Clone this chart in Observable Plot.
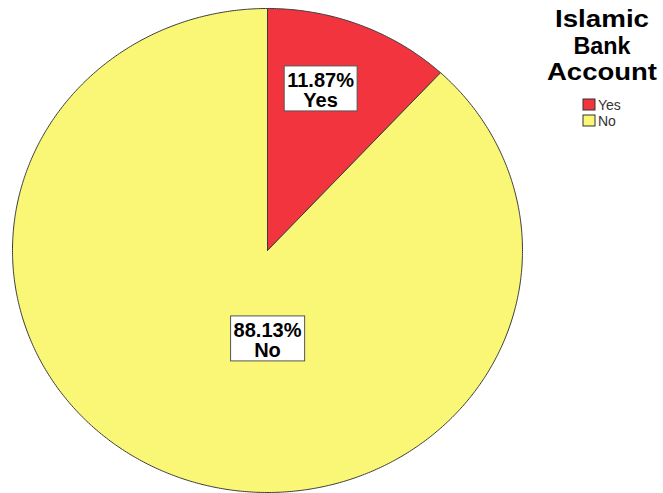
<!DOCTYPE html>
<html><head><meta charset="utf-8">
<script src="https://cdn.jsdelivr.net/npm/d3@7"></script>
<script src="https://cdn.jsdelivr.net/npm/@observablehq/plot@0.6"></script>
<style>
body{margin:0;background:#fff;}
#chart{position:relative;width:663px;height:493px;}
</style>
</head><body><div id="chart"></div>
<script>
// ---- data ----
const categories = ["Yes", "No"];
const percents = [11.87, 88.13];
const colors = ["#f2343f", "#faf776"];
const legendTitle = ["Islamic", "Bank", "Account"];

// ---- layout (not data) ----
const labelAt = [[0.208, 0.659], [0, -0.374]];
const titleWidths = [94, 57, 110];

const pie = d3.pie().sort(null).value(d => d.value)(
  categories.map((c, i) => ({category: c, value: percents[i]}))
);
const outline = [];
pie.forEach(a => {
  const n = Math.max(2, Math.ceil((a.endAngle - a.startAngle) / (Math.PI / 360)));
  outline.push({category: a.data.category, x: 0, y: 0});
  for (let k = 0; k <= n; k++) {
    const t = a.startAngle + (a.endAngle - a.startAngle) * k / n;
    outline.push({category: a.data.category, x: Math.sin(t), y: Math.cos(t)});
  }
  outline.push({category: a.data.category, x: 0, y: 0});
});

const labels = categories.map((c, i) => ({
  text: `${percents[i].toFixed(2)}%\n${c}`, x: labelAt[i][0], y: labelAt[i][1]
}));

const plot = Plot.plot({
  width: 663,
  height: 493,
  margin: 0,
  style: {fontFamily: "'Liberation Sans', Arial, sans-serif", background: "#fff"},
  x: {domain: [-1, 1], range: [12, 522], axis: null},
  y: {domain: [-1, 1], range: [492, 8], axis: null},
  color: {domain: categories, range: colors},
  marks: [
    Plot.line(outline, {x: "x", y: "y", z: "category", fill: "category", stroke: "#3c3c3c", strokeWidth: 1, curve: "linear"}),
    Plot.text(labels, {x: "x", y: "y", text: "text", fontSize: 20, fontWeight: "bold", fill: "#000", lineHeight: 1, className: "slice-labels"})
  ]
});
document.getElementById("chart").appendChild(plot);

// boxes behind labels
const svg = d3.select(plot);
svg.selectAll("g.slice-labels text").each(function() {
  const bb = this.getBBox();
  d3.select(this.parentNode).insert("rect", () => this)
    .attr("transform", this.getAttribute("transform"))
    .attr("x", bb.x - 3).attr("y", bb.y - 3.5)
    .attr("width", bb.width + 6).attr("height", bb.height + 3)
    .attr("fill", "#fff").attr("stroke", "#555").attr("stroke-width", 1);
});

// legend
const lg = svg.append("g").attr("font-family", "'Liberation Sans', Arial, sans-serif");
lg.selectAll("text.title").data(legendTitle).join("text")
  .attr("class", "title")
  .attr("x", 602).attr("y", (d, i) => 27 + i * 26.5)
  .attr("text-anchor", "middle").attr("font-weight", "bold").attr("font-size", 24)
  .attr("fill", "#000")
  .attr("textLength", (d, i) => titleWidths[i]).attr("lengthAdjust", "spacingAndGlyphs")
  .text(d => d);
const items = lg.selectAll("g.item").data(categories).join("g").attr("class", "item")
  .attr("transform", (d, i) => `translate(583,${99 + i * 16})`);
items.append("rect").attr("width", 12).attr("height", 11)
  .attr("fill", (d, i) => colors[i]).attr("stroke", "#333").attr("stroke-width", 1);
items.append("text").attr("x", 15).attr("y", 11).attr("text-anchor", "start")
  .attr("font-size", 14).attr("fill", "#333").text(d => d);
</script>
</body></html>
